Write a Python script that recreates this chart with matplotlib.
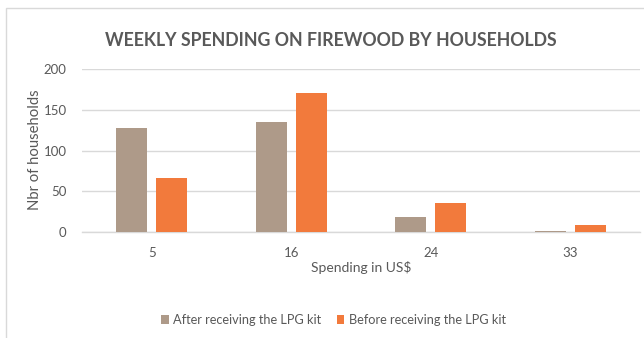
import matplotlib
matplotlib.use("Agg")
import matplotlib.pyplot as plt
import numpy as np
from matplotlib.patches import Rectangle

categories = ["5", "16", "24", "33"]
after_kit = [127, 135, 19, 1]
before_kit = [66, 170, 36, 8]
series_labels = ["After receiving the LPG kit", "Before receiving the LPG kit"]
y_ticks = [0, 50, 100, 150, 200]

TEXT = "#595959"
GRID = "#D9D9D9"
C_AFTER = "#AE9A89"
C_BEFORE = "#F27A3C"

plt.rcParams["font.family"] = ["Lato", "DejaVu Sans"]

W, H = 644, 338
fig = plt.figure(figsize=(W / 100, H / 100), dpi=100)

# chart-area frame
fig.patches.append(Rectangle((6 / W, 0 - 0.01), 1.0, 1 - 8 / H + 0.01,
                             transform=fig.transFigure, fill=False,
                             edgecolor=GRID, linewidth=1.0))

ax = fig.add_axes([82 / W, 1 - 232 / H, (640 - 82) / W, (232 - 69) / H])

x = np.arange(len(categories))
bw = 0.222
off = 0.142
ax.bar(x - off, after_kit, width=bw, color=C_AFTER, label=series_labels[0], zorder=3)
ax.bar(x + off, before_kit, width=bw, color=C_BEFORE, label=series_labels[1], zorder=3)

ax.set_xlim(-0.5, len(categories) - 0.5)
ax.set_ylim(0, 200)
ax.set_yticks(y_ticks)
ax.set_xticks(x)
ax.set_xticklabels(categories)
ax.grid(axis="y", color=GRID, linewidth=1.0, zorder=0)
for s in ["top", "right", "left"]:
    ax.spines[s].set_visible(False)
ax.spines["bottom"].set_color(GRID)
ax.spines["bottom"].set_linewidth(1.0)
ax.tick_params(axis="both", length=0, labelsize=9.5, colors=TEXT)
ax.tick_params(axis="y", pad=11)
ax.tick_params(axis="x", pad=11)

ax.set_xlabel("Spending in US$", fontsize=10, color=TEXT, labelpad=1)
fig.text(35 / W, 1 - 150 / H, "Nbr of households", rotation=90,
         ha="center", va="center", fontsize=10.7, color=TEXT)

fig.text(0.513, 1 - 40 / H, "WEEKLY SPENDING ON FIREWOOD BY HOUSEHOLDS",
         ha="center", va="center", fontsize=12.8, fontweight="bold", color=TEXT)

leg = fig.legend(loc="center", bbox_to_anchor=(0.518, 1 - 320 / H), ncol=2,
                 frameon=False, fontsize=9.2, handlelength=0.6, handleheight=0.6,
                 handletextpad=0.35, columnspacing=1.2)
for t in leg.get_texts():
    t.set_color(TEXT)

fig.savefig("out.png", dpi=100)
